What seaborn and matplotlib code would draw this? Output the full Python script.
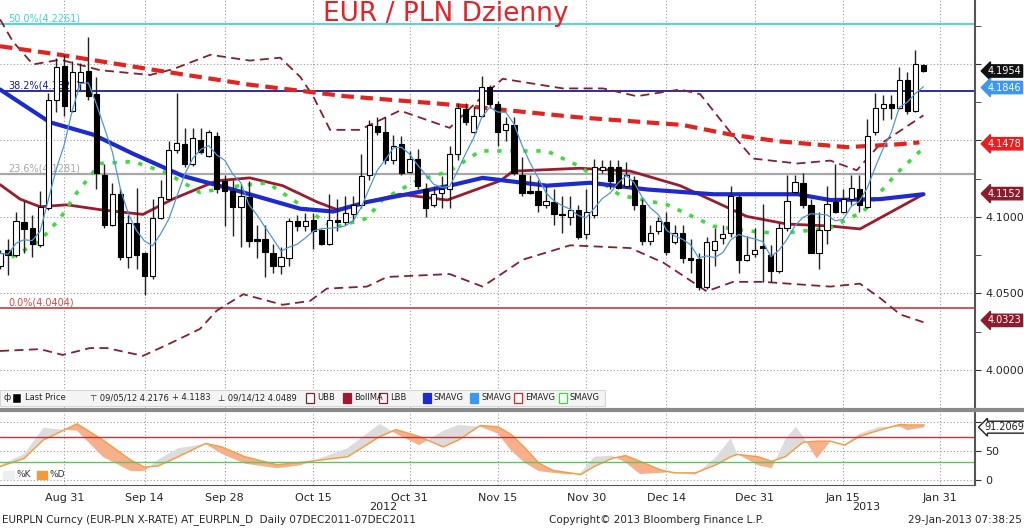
import numpy as np
import pandas as pd
import matplotlib
matplotlib.use("Agg")
import matplotlib.pyplot as plt
import seaborn as sns
from matplotlib.patches import Rectangle
from matplotlib.lines import Line2D

# --- daily candles, EUR/PLN, 21 Aug 2012 .. 29 Jan 2013 ---
OPEN = [4.0677, 4.0782, 4.0751, 4.0967, 4.0929, 4.0814, 4.1055, 4.1767, 4.1987, 4.1694,
        4.1882, 4.1952, 4.1803, 4.1275, 4.0950, 4.1149, 4.0740, 4.0960, 4.0761, 4.0614,
        4.0992, 4.1117, 4.1436, 4.1478, 4.1348, 4.1505, 4.1400, 4.1526, 4.1233, 4.1170,
        4.1065, 4.1128, 4.0855, 4.0855, 4.0761, 4.0677, 4.0730, 4.0971, 4.0939, 4.0981,
        4.0912, 4.0824, 4.0981, 4.0967, 4.1017, 4.1076, 4.1275, 4.1593, 4.1558, 4.1369,
        4.1478, 4.1296, 4.1379, 4.1180, 4.1076, 4.1159, 4.1180, 4.1411, 4.1704, 4.1558,
        4.1662, 4.1851, 4.1736, 4.1568, 4.1600, 4.1275, 4.1170, 4.1170, 4.1076, 4.1097,
        4.1017, 4.1002, 4.1044, 4.0887, 4.1013, 4.1306, 4.1327, 4.1327, 4.1201, 4.1243,
        4.1076, 4.0845, 4.0908, 4.0967, 4.0835, 4.0897, 4.0734, 4.0723, 4.0541, 4.0782,
        4.0862, 4.0897, 4.1132, 4.0719, 4.0755, 4.0807, 4.0751, 4.0646, 4.0929, 4.1164,
        4.1222, 4.1076, 4.0765, 4.0912, 4.1097, 4.1034, 4.1117, 4.1185, 4.1065, 4.1558,
        4.1715, 4.1736, 4.1715, 4.1893, 4.1694, 4.1994]
HIGH = [4.0782, 4.0855, 4.1034, 4.1107, 4.1013, 4.1170, 4.1809, 4.2040, 4.2061, 4.2019,
        4.2008, 4.2176, 4.1914, 4.1348, 4.1222, 4.1180, 4.1013, 4.1191, 4.0770, 4.1117,
        4.1243, 4.1495, 4.1809, 4.1579, 4.1579, 4.1583, 4.1568, 4.1558, 4.1275, 4.1243,
        4.1212, 4.1233, 4.0950, 4.0950, 4.0824, 4.0803, 4.0992, 4.1013, 4.1023, 4.1023,
        4.0918, 4.1149, 4.1117, 4.1138, 4.1138, 4.1411, 4.1631, 4.1652, 4.1652, 4.1537,
        4.1526, 4.1432, 4.1442, 4.1222, 4.1201, 4.1264, 4.1463, 4.1746, 4.1746, 4.1725,
        4.1924, 4.1862, 4.1757, 4.1652, 4.1652, 4.1390, 4.1275, 4.1243, 4.1201, 4.1180,
        4.1138, 4.1138, 4.1076, 4.1180, 4.1379, 4.1369, 4.1369, 4.1373, 4.1358, 4.1264,
        4.1117, 4.0950, 4.1002, 4.1034, 4.0950, 4.0950, 4.0855, 4.0765, 4.0866, 4.0929,
        4.0950, 4.1201, 4.1140, 4.0877, 4.0929, 4.1086, 4.0814, 4.0960, 4.1275, 4.1275,
        4.1285, 4.1117, 4.1034, 4.1201, 4.1348, 4.1180, 4.1275, 4.1275, 4.1642, 4.1809,
        4.1799, 4.1799, 4.1977, 4.1945, 4.2092, 4.1998]
LOW = [4.0656, 4.0619, 4.0740, 4.0761, 4.0740, 4.0803, 4.1044, 4.1683, 4.1662, 4.1683,
       4.1830, 4.1767, 4.1180, 4.0929, 4.0939, 4.0719, 4.0667, 4.0656, 4.0489, 4.0594,
       4.0985, 4.1110, 4.1420, 4.1327, 4.1330, 4.1411, 4.1390, 4.1159, 4.0939, 4.0877,
       4.0803, 4.0803, 4.0730, 4.0604, 4.0635, 4.0625, 4.0677, 4.0908, 4.0908, 4.0793,
       4.0814, 4.0814, 4.0908, 4.0950, 4.0971, 4.1055, 4.1243, 4.1537, 4.1348, 4.1348,
       4.1275, 4.1285, 4.1180, 4.1002, 4.1065, 4.1055, 4.1055, 4.1369, 4.1600, 4.1547,
       4.1652, 4.1715, 4.1463, 4.1495, 4.1275, 4.1138, 4.1149, 4.1034, 4.1055, 4.0950,
       4.0897, 4.0950, 4.0855, 4.0855, 4.0992, 4.1285, 4.1180, 4.1180, 4.1191, 4.1044,
       4.0814, 4.0814, 4.0887, 4.0751, 4.0824, 4.0698, 4.0635, 4.0520, 4.0531, 4.0677,
       4.0824, 4.0866, 4.0635, 4.0709, 4.0740, 4.0573, 4.0573, 4.0635, 4.0908, 4.1149,
       4.1055, 4.0761, 4.0656, 4.0824, 4.1023, 4.1023, 4.1076, 4.1034, 4.1055, 4.1537,
       4.1631, 4.1642, 4.1704, 4.1673, 4.1683, 4.1950]
CLOSE = [4.0761, 4.0751, 4.0971, 4.0918, 4.0824, 4.1065, 4.1767, 4.1977, 4.1725, 4.1945,
         4.1945, 4.1788, 4.1285, 4.0950, 4.1149, 4.0740, 4.0960, 4.0751, 4.0610, 4.0992,
         4.1128, 4.1436, 4.1484, 4.1348, 4.1516, 4.1421, 4.1558, 4.1180, 4.1170, 4.1065,
         4.1138, 4.0845, 4.0845, 4.0772, 4.0681, 4.0740, 4.0971, 4.0939, 4.0975, 4.0908,
         4.0824, 4.0981, 4.0967, 4.1023, 4.1080, 4.1268, 4.1600, 4.1558, 4.1369, 4.1463,
         4.1285, 4.1379, 4.1201, 4.1055, 4.1149, 4.1180, 4.1411, 4.1715, 4.1621, 4.1662,
         4.1851, 4.1736, 4.1558, 4.1610, 4.1285, 4.1159, 4.1159, 4.1076, 4.1107, 4.1017,
         4.1009, 4.1044, 4.0866, 4.1034, 4.1327, 4.1327, 4.1233, 4.1191, 4.1275, 4.1080,
         4.0845, 4.0897, 4.0971, 4.0772, 4.0897, 4.0730, 4.0719, 4.0541, 4.0835, 4.0845,
         4.0887, 4.1138, 4.0719, 4.0751, 4.0782, 4.0799, 4.0646, 4.0929, 4.1107, 4.1226,
         4.1076, 4.0765, 4.0912, 4.1086, 4.1034, 4.1117, 4.1191, 4.1076, 4.1526, 4.1715,
         4.1736, 4.1715, 4.1893, 4.1694, 4.1998, 4.1954]

# --- indicator lines (x = trading-day index) ---
EMA_X = [0, 7.5, 18.7, 31, 43, 55, 60, 72, 85, 91, 97, 105.5, 112, 114.5]
EMA_Y = [4.2116, 4.2060, 4.1965, 4.1865, 4.1789, 4.1739, 4.1714, 4.1651, 4.1601,
         4.1538, 4.1494, 4.1456, 4.1475, 4.1487]
SMA_BLUE_X = [0, 6.2, 11.6, 16.6, 22.8, 29.0, 37.4, 41.5, 45.7, 51.9, 56.0, 60.1,
              68.1, 73.5, 80.6, 88.8, 99.3, 103.4, 109.6, 115]
SMA_BLUE_Y = [4.1833, 4.1619, 4.1538, 4.1412, 4.1267, 4.1179, 4.1053, 4.1035, 4.1097,
              4.1160, 4.1204, 4.1255, 4.1204, 4.1223, 4.1179, 4.1148, 4.1148, 4.1110,
              4.1116, 4.1148]
BOLLMA_X = [0, 2.5, 5.0, 8.3, 12.5, 17.8, 21.5, 27.0, 31.1, 35.2, 39.5, 42.0, 45.7,
            49.8, 55.7, 62.3, 63.9, 72.2, 78.5, 84.7, 93.0, 98.0, 103.4, 107.1, 115]
BOLLMA_Y = [4.1211, 4.1116, 4.1066, 4.1079, 4.1047, 4.1016, 4.1116, 4.1236, 4.1255,
            4.1204, 4.1097, 4.1047, 4.1097, 4.1148, 4.1110, 4.1236, 4.1299, 4.1318,
            4.1299, 4.1204, 4.1003, 4.0953, 4.0940, 4.0921, 4.1148]
UBB_X = [0, 1.6, 4.1, 7.5, 12.5, 18.7, 21.5, 26.2, 31.1, 34.9, 37.4, 39.0, 41.1, 44.8,
         49.8, 56.0, 60.1, 62.6, 70.1, 75.1, 79.3, 84.7, 87.2, 90.9, 93.8, 99.3, 103.4,
         106.7, 109.6, 115]
UBB_Y = [4.2292, 4.2147, 4.1997, 4.2028, 4.1959, 4.1928, 4.1965, 4.2060, 4.2022, 4.2041,
         4.1915, 4.1789, 4.1569, 4.1569, 4.1695, 4.1582, 4.1789, 4.1903, 4.1840, 4.1840,
         4.1789, 4.1833, 4.1802, 4.1557, 4.1381, 4.1349, 4.1368, 4.1305, 4.1475, 4.1664]
LBB_X = [0, 5.0, 7.8, 11.2, 13.3, 17.8, 21.2, 24.9, 27.0, 30.3, 35.2, 38.6, 40.7, 45.7,
         48.2, 56.0, 60.1, 65.1, 71.0, 78.5, 82.6, 88.0, 91.3, 95.0, 103.4, 107.1, 109.6,
         112.1, 115]
LBB_Y = [4.0123, 4.0135, 4.0097, 4.0142, 4.0142, 4.0091, 4.0173, 4.0267, 4.0387, 4.0494,
         4.0425, 4.0450, 4.0531, 4.0544, 4.0607, 4.0626, 4.0544, 4.0720, 4.0814, 4.0796,
         4.0701, 4.0513, 4.0575, 4.0575, 4.0544, 4.0563, 4.0469, 4.0362, 4.0311]
GREEN_X = [0, 2.5, 5.0, 7.5, 9.6, 12.5, 16.6, 20.8, 24.9, 29.9, 33.3, 37.4, 41.5, 45.7,
           47.7, 51.9, 56.0, 59.8, 68.1, 72.2, 77.2, 83.1, 88.8, 93.0, 97.1, 103.4,
           107.5, 109.6, 111.7, 114.6]
GREEN_Y = [4.0701, 4.0764, 4.0846, 4.0991, 4.1160, 4.1349, 4.1362, 4.1286, 4.1160,
           4.1204, 4.1223, 4.1079, 4.0928, 4.0991, 4.1116, 4.1236, 4.1299, 4.1431,
           4.1431, 4.1330, 4.1142, 4.1079, 4.0940, 4.0909, 4.0890, 4.0928, 4.1035,
           4.1160, 4.1286, 4.1431]

# --- stochastic panel ---
STO_X = [0, 3.0, 5.4, 9.6, 12.8, 16.3, 18.0, 19.7, 22.2, 25.6, 27.6, 30.5, 34.5, 37.4,
         43.3, 47.3, 49.3, 52.2, 55.2, 57.1, 59.8, 62.0, 63.7, 65.4, 67.1, 68.9, 71.0,
         72.3, 74.0, 76.2, 77.9, 79.7, 82.3, 84.0, 86.6, 89.2, 91.0, 91.8, 94.4, 96.1,
         97.8, 99.1, 100.0, 101.7, 103.4, 105.2, 107.0, 109.5, 112.1, 113.0, 115.1]
STO_D = [23, 37, 69, 97, 69, 34, 22, 24, 40, 63, 57, 40, 26, 30, 40, 75, 87, 75, 57, 69,
         94, 92, 78, 55, 29, 16, 12, 9, 23, 37, 42, 32, 17, 12, 12, 26, 40, 44, 40, 32,
         40, 55, 65, 67, 67, 60, 75, 86, 96, 95, 95]
STO_K = [25, 45, 90, 85, 40, 15, 15, 35, 55, 62, 45, 28, 20, 25, 55, 97, 80, 60, 85, 95,
         92, 80, 50, 29, 15, 12, 9, 12, 40, 42, 30, 10, 12, 14, 9, 40, 72, 45, 25, 20,
         70, 92, 75, 37, 66, 62, 80, 92, 92, 86, 91]

FIB = [("50.0%(4.2261)", 4.2261, "#3fd3dc"), ("38.2%(4.1826)", 4.1826, "#1c1c9c"),
       ("23.6%(4.1281)", 4.1281, "#a8a8a8"), ("0.0%(4.0404)", 4.0404, "#d2494b")]
TAGS = [(4.1954, "4.1954", "#111111"), (4.1846, "4.1846", "#3a98f0"),
        (4.1478, "4.1478", "#ee1c1c"), (4.1152, "4.1152", "#8c1c2c"),
        (4.0323, "4.0323", "#8c1c2c")]
TICK_DATES = ["2012-08-31", "2012-09-14", "2012-09-28", "2012-10-15", "2012-10-31",
              "2012-11-15", "2012-11-30", "2012-12-14", "2012-12-31", "2013-01-15",
              "2013-01-31"]

sns.set_style("white")
plt.rcParams['font.family'] = ['DejaVu Sans']

days = pd.bdate_range("2012-08-21", "2013-02-15")
pos = {d: i for i, d in enumerate(days)}
tick_pos = [pos[pd.Timestamp(d)] for d in TICK_DATES]
tick_lab = [pd.Timestamp(d).strftime("%b %d").replace(" 0", " ") for d in TICK_DATES]

df = pd.DataFrame({"o": OPEN, "h": HIGH, "l": LOW, "c": CLOSE})
df["x"] = np.arange(len(df))
df["sma5"] = df["c"].rolling(5, min_periods=1).mean()

fig = plt.figure(figsize=(10.24, 5.28), dpi=100)
ax = fig.add_axes([0, 1 - 408 / 528, 975 / 1024, 408 / 528])
ax2 = fig.add_axes([0, 1 - 485 / 528, 975 / 1024, 75 / 528])
XMAX = 975 / 8.03
for a in (ax, ax2):
    a.set_xlim(0, XMAX)
    for s in ("top", "left", "bottom"):
        a.spines[s].set_visible(False)
    a.spines["right"].set_color("#555555")
    a.spines["right"].set_linewidth(1.5)
    a.set_xticks(tick_pos)
    a.set_xticks([(tick_pos[i] + tick_pos[i + 1]) / 2 for i in range(len(tick_pos) - 1)],
                 minor=True)
    a.grid(True, axis="both", which="major", linestyle=(0, (1, 2)), color="#9a9a9a", lw=0.8)

ax.set_ylim(4.1 - 182.5 / 1590, 4.1 + 225.5 / 1590)
ax.set_yticks([4.00, 4.05, 4.10, 4.15, 4.20])
ax.set_yticks(np.arange(3.975, 4.24, 0.025), minor=True)
ax.yaxis.tick_right()
ax.set_yticklabels(["4.0000", "4.0500", "4.1000", "", ""], fontsize=8)
ax.tick_params(axis="y", which="both", direction="out", length=4, color="#333333")
ax.tick_params(axis="x", which="both", length=0, labelbottom=False)

# fibonacci levels
for lab, val, col in FIB:
    ax.axhline(val, color=col, lw=1.3 if col != "#a8a8a8" else 1.6, zorder=1)
    ax.text(1, val + 0.0003, lab, color=col, fontsize=7, va="bottom", ha="left", zorder=2)

# bollinger bands and averages
ax.plot(UBB_X, UBB_Y, color="#86202e", lw=1.3, linestyle=(0, (5, 3)), zorder=2)
ax.plot(LBB_X, LBB_Y, color="#86202e", lw=1.3, linestyle=(0, (5, 3)), zorder=2)
sns.lineplot(x=BOLLMA_X, y=BOLLMA_Y, ax=ax, color="#9c1b2e", lw=2, zorder=2)
ax.plot(GREEN_X, GREEN_Y, color="#3ddc3d", lw=2.6, linestyle=(0, (1.2, 2.4)), zorder=2)
ax.plot(EMA_X, EMA_Y, color="#e4231e", lw=3, linestyle=(0, (3, 1.6)), zorder=3)
sns.lineplot(x=SMA_BLUE_X, y=SMA_BLUE_Y, ax=ax, color="#1d2ad0", lw=3, zorder=3)

# candles
up = df["c"] >= df["o"]
ax.vlines(df["x"], df["l"], df["h"], color="#222222", lw=1, zorder=4)
body = (df["c"] - df["o"]).abs().clip(lower=0.0006)
ax.bar(df["x"], body, bottom=df[["o", "c"]].min(axis=1), width=0.65,
       color=np.where(up, "white", "black"), edgecolor="black", lw=0.8, zorder=5)
sns.lineplot(x=df["x"], y=df["sma5"], ax=ax, color="#4f97d8", lw=0.9, zorder=6)
ax.set_xlabel("")
ax.set_ylabel("")

# price tags on the right
ytr = ax.get_yaxis_transform()
for val, txt, col in TAGS:
    ax.text(1.013, val, txt, transform=ytr, color="white", fontsize=7, va="center",
            ha="left", clip_on=False,
            bbox=dict(boxstyle="larrow,pad=0.12", fc=col, ec=col))

# stochastic
ax2.set_ylim(-9, 121)
ax2.fill_between(STO_X, STO_K, STO_D, where=np.array(STO_K) >= np.array(STO_D),
                 interpolate=True, color="#dcdcdc", lw=0)
ax2.fill_between(STO_X, STO_K, STO_D, where=np.array(STO_K) < np.array(STO_D),
                 interpolate=True, color="#f8b08c", lw=0)
sns.lineplot(x=STO_X, y=STO_D, ax=ax2, color="#f0a04c", lw=1.1)
ax2.axhline(74, color="#c8303a", lw=1)
ax2.axhline(31, color="#5cc85c", lw=1)
ax2.yaxis.tick_right()
ax2.set_yticks([0, 50, 100])
ax2.set_yticklabels(["0", "50", ""], fontsize=8)
ax2.tick_params(axis="y", direction="out", length=4, color="#333333")
ax2.tick_params(axis="x", which="major", length=4, labelsize=8, pad=2)
ax2.tick_params(axis="x", which="minor", length=3)
ax2.set_xticklabels(tick_lab)
ax2.spines["bottom"].set_visible(True)
ax2.spines["bottom"].set_color("#555555")
ax2.text(1.010, 91.2, "91.2069", transform=ax2.get_yaxis_transform(), fontsize=7,
         va="center", ha="left", color="#222222", clip_on=False,
         bbox=dict(boxstyle="larrow,pad=0.1", fc="white", ec="#222222"))
ax2.add_patch(Rectangle((0.4, 2), 1.3, 14, color="#eeeeee"))
ax2.text(2.0, 9, "%K", fontsize=6.5, va="center", color="#333333")
ax2.add_patch(Rectangle((4.6, 2), 1.3, 14, color="#f39a3a"))
ax2.text(6.2, 9, "%D", fontsize=6.5, va="center", color="#333333")

# panel separator
fig.add_artist(Line2D([0, 1], [1 - 409.5 / 528] * 2, color="#8a8a8a", lw=3))

# legend row of main panel
ly = 1 - 398 / 528
fig.add_artist(Rectangle((0, 1 - 406 / 528), 605 / 1024, 16 / 528, fc="#f4f4f4",
                         ec="#d6d6d6", lw=0.8))
fig.add_artist(Rectangle((12 / 1024, ly - 0.009), 9 / 1024, 0.018, fc="black"))
fig.text(4 / 1024, ly, "ф", fontsize=6, va="center")
items = [(25, "Last Price"), (90, "⊤ 09/05/12 4.2176"), (172, "+ 4.1183"),
         (218, "⊥ 09/14/12 4.0489")]
for x, t in items:
    fig.text(x / 1024, ly, t, fontsize=6, va="center", color="#222222")
leg = [(306, "UBB", "#86202e", False), (343, "BollMA", "#9c1b2e", True),
       (379, "LBB", "#86202e", False), (423, "SMAVG", "#1d2ad0", True),
       (470, "SMAVG", "#3a98f0", True), (514, "EMAVG", "#e4231e", False),
       (559, "SMAVG", "#3ddc3d", False)]
for x, t, col, filled in leg:
    fig.add_artist(Rectangle((x / 1024, ly - 0.009), 8 / 1024, 0.018,
                             fc=col if filled else "white", ec=col, lw=0.9))
    fig.text((x + 11) / 1024, ly, t, fontsize=6, va="center", color="#222222")

# title and footer
fig.text(0.435, 0.998, "EUR / PLN Dzienny", color="#e8202a", fontsize=19, ha="center",
         va="top", family=["Liberation Sans Narrow", "DejaVu Sans"])
fig.text(383 / 1024, 1 - 507 / 528, "2012", fontsize=8, ha="center", va="center")
fig.text(866 / 1024, 1 - 507 / 528, "2013", fontsize=8, ha="center", va="center")
fig.text(2 / 1024, 1 - 520 / 528, "EURPLN Curncy (EUR-PLN X-RATE) AT_EURPLN_D  Daily 07DEC2011-07DEC2011",
         fontsize=7.5, va="center")
fig.text(549 / 1024, 1 - 520 / 528, "Copyright\u00a9 2013 Bloomberg Finance L.P.",
         fontsize=7.5, va="center")
fig.text(1022 / 1024, 1 - 520 / 528, "29-Jan-2013 07:38:25", fontsize=7.5, va="center",
         ha="right")

fig.savefig("out.png", dpi=100)
